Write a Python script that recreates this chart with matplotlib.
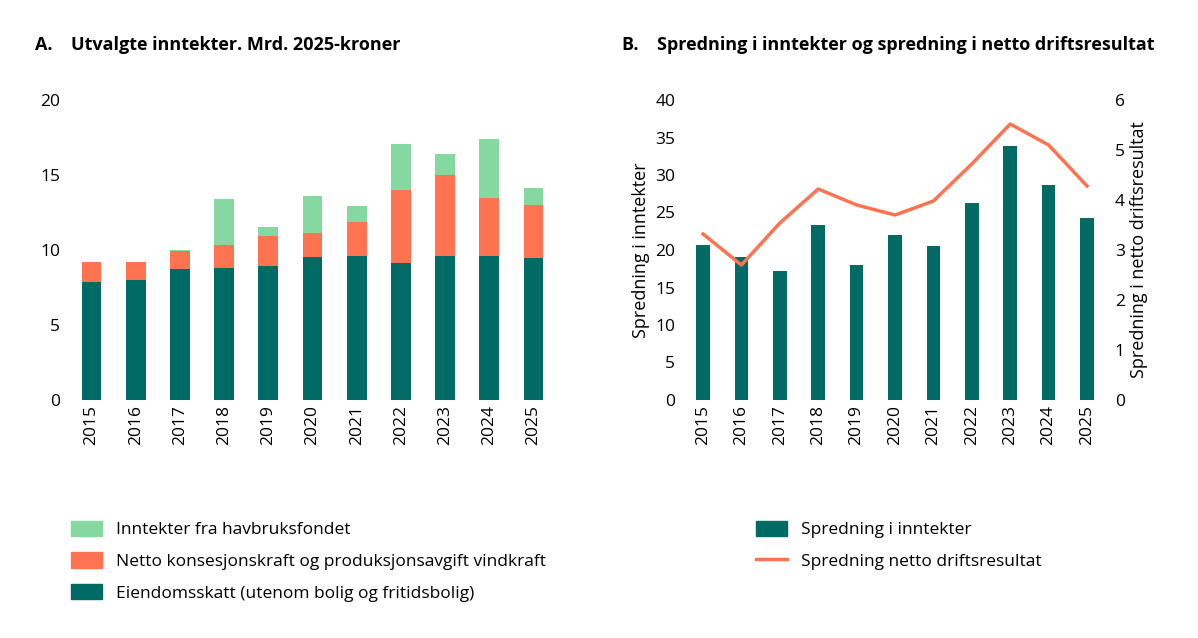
import matplotlib.pyplot as plt
import numpy as np
from matplotlib.lines import Line2D
from matplotlib.patches import Patch

years = ['2015','2016','2017','2018','2019','2020','2021','2022','2023','2024','2025']
eiendom = [7.87,8.0,8.73,8.8,8.93,9.53,9.6,9.13,9.6,9.6,9.47]
kons_top = [9.2,9.2,9.93,10.33,10.93,11.13,11.87,14.0,15.0,13.47,13.0]
havbruk_top = [9.2,9.2,10.0,13.4,11.53,13.6,12.93,17.07,16.4,17.4,14.13]
spredning_inntekt = [20.7,19.1,17.2,23.3,18.0,22.0,20.5,26.3,33.9,28.7,24.3]
spredning_netto = [3.32,2.7,3.54,4.22,3.9,3.7,3.98,4.72,5.52,5.1,4.28]

konsesjon = np.array(kons_top) - np.array(eiendom)
havbruk = np.array(havbruk_top) - np.array(kons_top)

TEAL = '#006b64'; ORANGE = '#ff7350'; GREEN = '#84d8a0'
plt.rcParams['font.family'] = ['Open Sans', 'DejaVu Sans']
plt.rcParams['font.size'] = 12

fig = plt.figure(figsize=(11.98, 6.38), dpi=100)
W, H = 1198, 638
x = np.arange(len(years))

axA = fig.add_axes([65/W, (H-400)/H, 495/W, 300/H])
axA.bar(x, eiendom, 0.45, color=TEAL)
axA.bar(x, konsesjon, 0.45, bottom=eiendom, color=ORANGE)
axA.bar(x, havbruk, 0.45, bottom=kons_top, color=GREEN)
axA.set_ylim(0, 20); axA.set_yticks([0,5,10,15,20])
axA.set_xlim(-0.6, 10.6)
axA.set_xticks(x); axA.set_xticklabels(years, rotation=90)
for s in axA.spines.values(): s.set_visible(False)
axA.tick_params(length=0, labelsize=12.5)
fig.text(35/W, (H-45)/H, 'A.    Utvalgte inntekter. Mrd. 2025-kroner', fontsize=13, fontweight='bold', va='center')
fig.legend(handles=[Patch(color=GREEN), Patch(color=ORANGE), Patch(color=TEAL)],
           labels=['Inntekter fra havbruksfondet', 'Netto konsesjonskraft og produksjonsavgift vindkraft',
                   'Eiendomsskatt (utenom bolig og fritidsbolig)'],
           loc='upper left', bbox_to_anchor=(55/W, (H-505)/H), frameon=False, fontsize=12.5,
           handlelength=1.8, handleheight=1.0, labelspacing=0.8)

axB = fig.add_axes([680/W, (H-400)/H, 430/W, 300/H])
axB.bar(x, spredning_inntekt, 0.35, color=TEAL)
axB.set_ylim(0, 40); axB.set_yticks(range(0, 45, 5))
axB.set_xlim(-0.6, 10.6)
axB.set_xticks(x); axB.set_xticklabels(years, rotation=90)
axB.set_ylabel('Spredning i inntekter', fontsize=13)
axB2 = axB.twinx()
axB2.plot(x, spredning_netto, color=ORANGE, lw=2.5)
axB2.set_ylim(0, 6); axB2.set_yticks(range(0, 7))
axB2.set_ylabel('Spredning i netto driftsresultat', fontsize=13)
for a in (axB, axB2):
    for s in a.spines.values(): s.set_visible(False)
    a.tick_params(length=0, labelsize=12.5)
fig.text(622/W, (H-45)/H, 'B.    Spredning i inntekter og spredning i netto driftsresultat', fontsize=13, fontweight='bold', va='center')
fig.legend(handles=[Patch(color=TEAL), Line2D([0],[0], color=ORANGE, lw=2.5)],
           labels=['Spredning i inntekter', 'Spredning netto driftsresultat'],
           loc='upper left', bbox_to_anchor=(740/W, (H-505)/H), frameon=False, fontsize=12.5,
           handlelength=1.8, handleheight=1.0, labelspacing=0.8)

fig.savefig('out.png', dpi=100)
